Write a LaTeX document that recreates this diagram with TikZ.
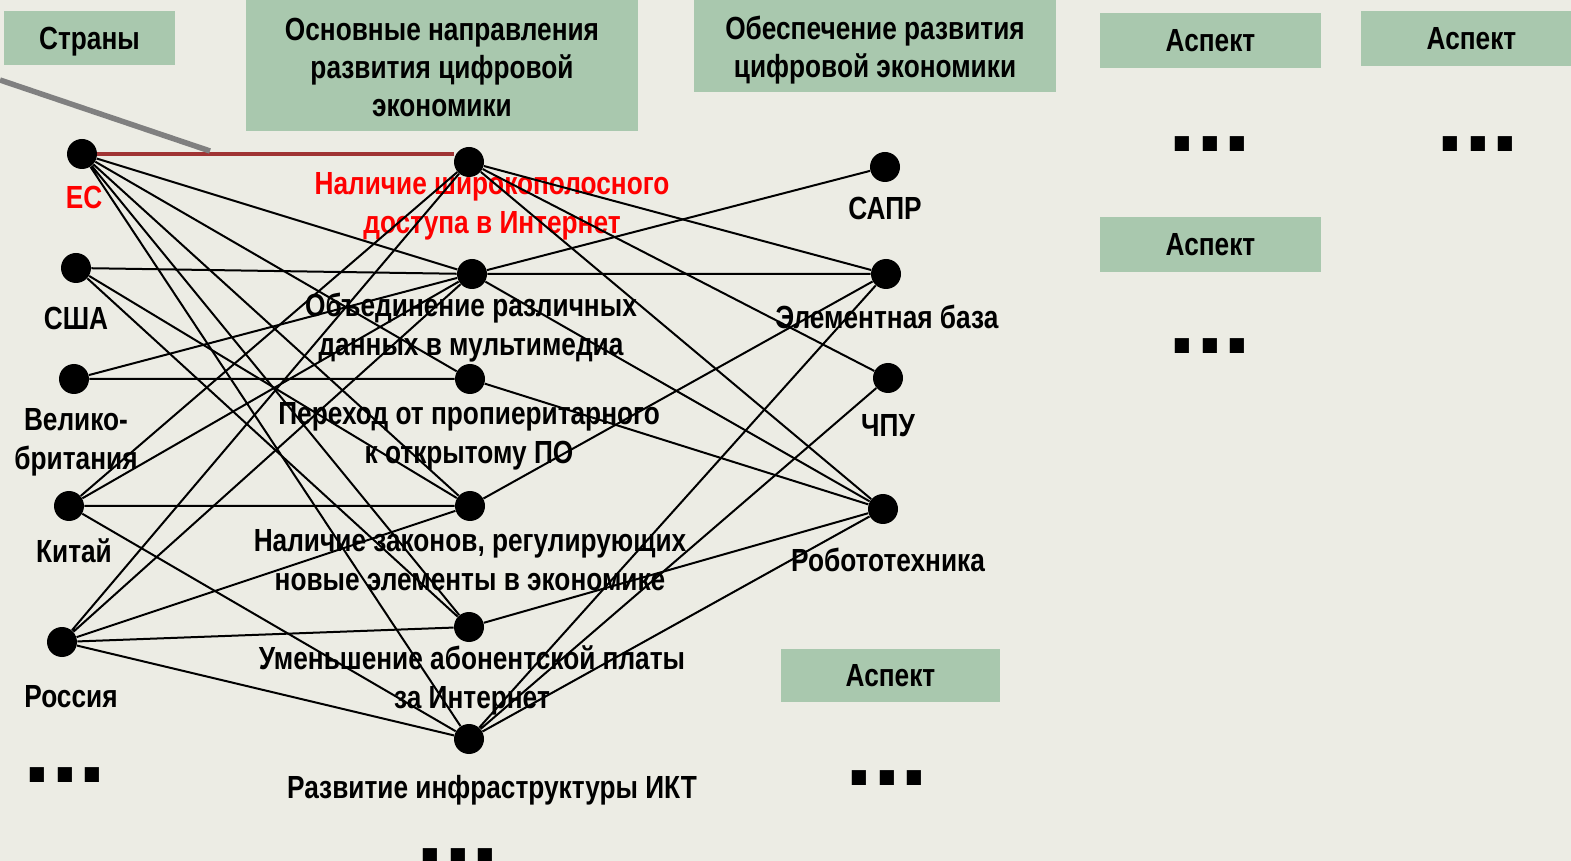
\documentclass[tikz,border=0pt]{standalone}
\usepackage{fontspec}
\setmainfont{Liberation Sans}[FakeStretch=0.82]
\newfontfamily\dotfont{Liberation Sans}
\usepackage{tikz}

\definecolor{bgcolor}{RGB}{236,236,228}
\definecolor{boxcolor}{RGB}{169,200,174}
\definecolor{linkred}{RGB}{160,52,52}

\tikzset{
  pt/.style={circle, fill=black, inner sep=0pt, minimum size=15pt},
  lbl/.style={font=\bfseries\fontsize{16}{19.5}\selectfont, align=center, inner sep=0pt},
  hdr/.style={fill=boxcolor, font=\bfseries\fontsize{16}{19}\selectfont, align=center, inner sep=0pt},
  link/.style={line width=1pt},
  more/.style={font=\dotfont\bfseries\fontsize{50}{50}\selectfont, inner sep=0pt}
}

\begin{document}
\begin{tikzpicture}[x=0.5pt,y=-0.5pt]

\fill [bgcolor] (0,0) rectangle (1571,861);
\useasboundingbox (0,0) rectangle (1571,861);

% Column headers
\fill [boxcolor] (4,11) rectangle (175,65);
\node [hdr, fill=none] (countries) at (89.5,42) {Страны};
\fill [boxcolor] (246,-4) rectangle (638,131);
\node [hdr, fill=none] (directions) at (442,67.5) {Основные направления\\развития цифровой\\экономики};
\fill [boxcolor] (694,-4) rectangle (1056,92);
\node [hdr, fill=none] (support) at (875,50) {Обеспечение развития\\цифровой экономики};
\node [hdr, minimum width=110.5pt, minimum height=27.5pt] (aspectA) at (1210.5,40.5) {Аспект};
\node [hdr, minimum width=110.5pt, minimum height=27.5pt] (aspectB) at (1471.5,38.5) {Аспект};
\node [hdr, minimum width=110.5pt, minimum height=27.5pt] (aspectC) at (1210.5,244.5) {Аспект};
\node [hdr, minimum width=109.5pt, minimum height=26.5pt] (aspectD) at (890.5,675.5) {Аспект};

% Countries
\node [pt] (es)  at (82,154) {};
\node [pt] (usa) at (76,268) {};
\node [pt] (uk)  at (74,379) {};
\node [pt] (cn)  at (69,506) {};
\node [pt] (ru)  at (62,642) {};

\node [lbl, text=red] (esname) at (84,197) {ЕС};
\node [lbl] (usaname) at (76,318) {США};
\node [lbl] (ukname)  at (76,442) {Велико-\\британия};
\node [lbl] (cnname)  at (74,551) {Китай};
\node [lbl] (runame)  at (71,697) {Россия};

% Directions
\node [pt] (broadband)  at (469,162) {};
\node [pt] (multimedia) at (472,274) {};
\node [pt] (opensw)     at (470,379) {};
\node [pt] (laws)       at (470,506) {};
\node [pt] (fee)        at (469,627) {};
\node [pt] (infra)      at (469,739) {};

\node [lbl, text=red] (broadbandname) at (492,206) {Наличие широкополосного\\доступа в Интернет};
\node [lbl] (multimedianame) at (471,328) {Объединение различных\\данных в мультимедиа};
\node [lbl] (openswname)     at (469,436) {Переход от пропиеритарного\\к открытому ПО};
\node [lbl] (lawsname)       at (470,560) {Наличие законов, регулирующих\\новые элементы в экономике};
\node [lbl] (feename)        at (472,680) {Уменьшение абонентской платы\\за Интернет};
\node [lbl] (infraname)      at (492,790) {Развитие инфраструктуры ИКТ};

% Support
\node [pt] (cad)    at (885,167) {};
\node [pt] (elbase) at (886,274) {};
\node [pt] (cnc)    at (888,378) {};
\node [pt] (robot)  at (883,509) {};

\node [lbl] (cadname)    at (885,208) {САПР};
\node [lbl] (elbasename) at (887,317) {Элементная база};
\node [lbl] (cncname)    at (888,426) {ЧПУ};
\node [lbl] (robotname)  at (888,560) {Робототехника};

% Ellipses
\node [more] (countriesmore)  at (65,775) {...};
\node [more] (directionsmore) at (458,856) {...};
\node [more] (supportmore)    at (887,778) {...};
\node [more] (aspectAmore)    at (1210,144) {...};
\node [more] (aspectBmore)    at (1478,144) {...};
\node [more] (aspectCmore)    at (1210,346) {...};

% Countries to directions
\draw [link] (es) -- (multimedia) (es) -- (opensw) (es) -- (laws) (es) -- (fee) (es) -- (infra);
\draw [link] (usa) -- (multimedia) (usa) -- (laws) (usa) -- (fee);
\draw [link] (uk) -- (multimedia) (uk) -- (opensw);
\draw [link] (cn) -- (broadband) (cn) -- (multimedia) (cn) -- (laws) (cn) -- (infra);
\draw [link] (ru) -- (broadband) (ru) -- (multimedia) (ru) -- (laws) (ru) -- (fee) (ru) -- (infra);

% Directions to support
\draw [link] (broadband) -- (elbase) (broadband) -- (cnc) (broadband) -- (robot);
\draw [link] (multimedia) -- (cad) (multimedia) -- (elbase) (multimedia) -- (robot);
\draw [link] (opensw) -- (robot);
\draw [link] (laws) -- (elbase);
\draw [link] (fee) -- (robot);
\draw [link] (infra) -- (elbase) (infra) -- (cnc) (infra) -- (robot);

% Highlighted path
\draw [line width=1.75pt, linkred] (es) -- (es -| broadband.west);
\draw [line width=2.75pt, gray] (0,80) -- (210,151);

\end{tikzpicture}
\end{document}
